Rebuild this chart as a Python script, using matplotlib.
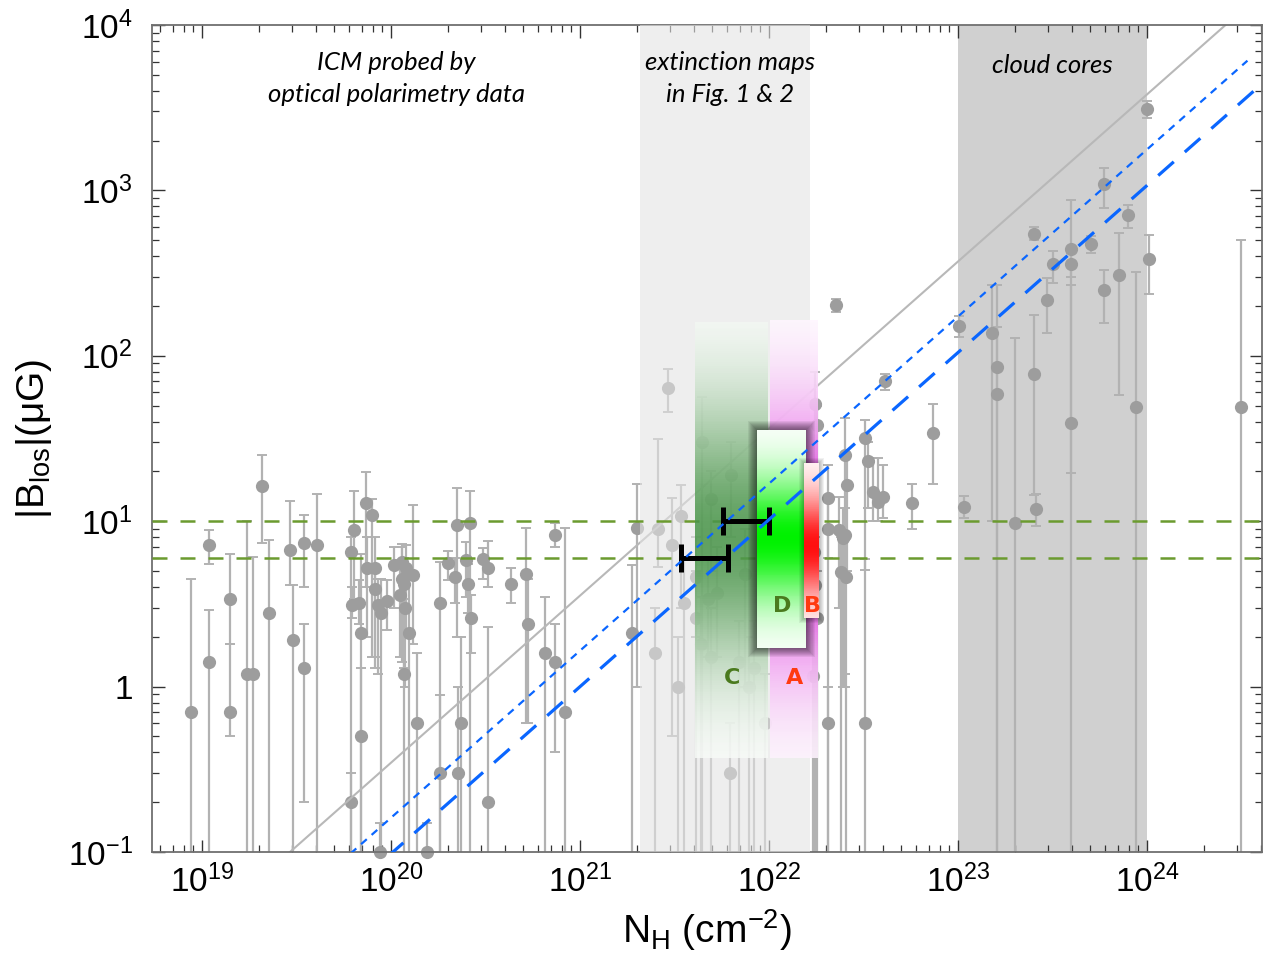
import numpy as np
import matplotlib
matplotlib.use('Agg')
import matplotlib.pyplot as plt
from matplotlib.patches import Rectangle

plt.rcParams['font.family'] = ['Liberation Sans', 'DejaVu Sans']
plt.rcParams['mathtext.fontset'] = 'custom'
plt.rcParams['mathtext.rm'] = 'Liberation Sans'
plt.rcParams['mathtext.it'] = 'Liberation Sans:italic'
plt.rcParams['mathtext.bf'] = 'Liberation Sans:bold'

Z = 1e-3  # lower error reaching below the axis

# column density (cm^-2), |B_los| (uG) and error bar ends
nh = [
    8.7e18, 1.09e19, 1.09e19, 1.41e19, 1.41e19, 1.72e19, 1.85e19, 2.07e19, 2.27e19, 2.93e19,
    3.02e19, 3.45e19, 3.45e19, 4.03e19, 6.1e19, 6.4e19, 6.1e19, 6.2e19, 6.8e19, 6.9e19,
    6.9e19, 7.4e19, 7.9e19, 7.5e19, 8.2e19, 8.2e19, 8.5e19, 8.8e19, 9.5e19, 8.7e19,
    1.55e20, 1.04e20, 1.14e20, 1.2e20, 1.3e20, 1.14e20, 1.17e20, 1.11e20, 1.18e20, 1.25e20,
    1.17e20, 1.37e20, 1.82e20, 1.82e20, 1.99e20, 2.18e20, 2.22e20, 2.62e20, 2.5e20, 2.55e20,
    2.65e20, 2.34e20, 2.26e20, 3.08e20, 3.27e20, 3.24e20, 4.3e20, 5.2e20, 5.3e20, 6.5e20,
    7.4e20, 7.4e20, 8.3e20, 1.88e21, 2.01e21,
    2.91e21, 2.6e21, 2.49e21, 3.05e21, 3.41e21, 3.55e21, 3.31e21, 4.43e21, 4.1e21, 4.1e21,
    4.36e21, 4.9e21, 4.95e21, 6.3e21, 4.75e21, 5.3e21, 6.2e21, 7.8e21, 8.3e21, 6.9e21,
    7.5e21, 9.5e21, 1.75e22, 1.8e22, 1.72e22, 1.75e22, 1.8e22, 1.7e22,
    2.26e22, 2.05e22, 2.52e22, 2.58e22, 3.34e22, 4.1e22, 3.22e22, 3.55e22, 3.75e22, 4.0e22,
    5.69e22, 7.4e22, 2.05e22, 2.35e22, 2.52e22, 2.45e22, 2.4e22, 2.55e22, 2.05e22, 3.2e22,
    1.01e23, 1.08e23, 1.51e23, 1.6e23, 1.6e23, 2.52e23, 2.6e23, 2.0e23, 2.52e23, 2.97e23,
    3.2e23, 3.98e23, 3.98e23, 3.98e23, 5.04e23, 5.94e23, 5.94e23, 7.1e23, 7.9e23, 8.75e23,
    9.96e23, 1.03e24, 3.14e24,
]
b_los = [
    0.70, 7.2, 1.4, 3.4, 0.70, 1.2, 1.2, 16.3, 2.8, 6.7,
    1.9, 7.4, 1.3, 7.2, 6.5, 8.8, 0.2, 3.1, 3.2, 2.1,
    0.5, 12.9, 10.9, 5.2, 5.2, 3.9, 3.1, 2.8, 3.3, 0.1,
    0.1, 5.4, 5.7, 5.2, 4.7, 4.5, 4.2, 3.6, 3.0, 2.1,
    1.2, 0.6, 3.2, 0.3, 5.6, 4.6, 9.5, 9.8, 5.8, 4.2,
    2.6, 0.6, 0.3, 5.9, 5.2, 0.2, 4.2, 4.8, 2.4, 1.6,
    1.4, 8.3, 0.7, 2.1, 9.1,
    64, 9.0, 1.6, 7.2, 10.8, 3.2, 1.0, 30, 4.6, 2.6,
    1.8, 1.5, 13.7, 19.1, 3.4, 3.7, 0.3, 1.0, 1.3, 1.4,
    4.8, 0.6, 51, 38, 6.5, 4.1, 2.6, 1.16,
    202, 13.9, 25, 16.6, 23, 70, 32, 15.0, 13.0, 14.1,
    12.8, 34, 9.0, 8.8, 8.3, 7.9, 4.9, 4.6, 0.6, 0.6,
    152, 12.2, 138, 86, 59, 78, 11.9, 9.8, 547, 217,
    358, 440, 39.5, 358, 473, 1096, 249, 307, 708, 49,
    3119, 386, 49,
]
b_low = [
    Z, 5.5, Z, 1.8, 0.50, Z, Z, 7.4, Z, 4.1,
    Z, 4.0, 0.2, Z, Z, 3.4, Z, 2.6, 2.4, Z,
    Z, 4.0, 1.5, 2.0, 1.5, 1.3, 1.2, Z, 2.2, Z,
    Z, 3.0, 3.5, 2.0, 1.8, 1.4, 1.3, 1.5, 1.0, Z,
    Z, Z, Z, Z, 4.4, 3.2, 2.0, Z, 3.5, 2.8,
    1.6, Z, Z, 4.5, 4.0, Z, 3.2, 0.6, 0.6, Z,
    0.4, 7.0, Z, Z, 1.0,
    46, 5.3, Z, 0.5, 3.0, Z, Z, Z, 2.0, Z,
    Z, Z, 5.0, 8.0, 1.5, 1.5, Z, Z, Z, Z,
    1.0, Z, Z, 5.0, Z, Z, Z, Z,
    185, 6.0, 1.2, 5.0, 12, 62, 5.1, 10, 10, 10.5,
    9.0, 16.8, Z, 3.0, 1.0, 1.0, Z, Z, Z, Z,
    130, 10.5, 10, Z, Z, 14.4, 9.3, Z, 500, 138,
    276, 19.6, Z, 300, 420, 780, 158, 58, 590, Z,
    2750, 235, Z,
]
b_high = [
    4.5, 8.9, 2.9, 6.3, 1.8, 10.0, 6.1, 25, 7.7, 13.3,
    4.1, 10.9, 2.4, 14.7, 8.0, 15.2, 0.3, 4.0, 4.4, 6.3,
    1.3, 19.9, 13.6, 8.0, 8.0, 5.2, 4.5, 4.5, 4.4, 0.15,
    0.15, 7.0, 7.3, 7.2, 12.5, 7.0, 6.0, 5.8, 5.2, 4.8,
    3.4, 1.6, 5.7, 0.89, 6.6, 6.0, 15.8, 15.2, 7.5, 5.5,
    3.6, 2.0, 1.0, 6.9, 7.6, 2.3, 5.2, 9.1, 4.5, 3.5,
    2.4, 9.7, 9.1, 5.4, 16.9,
    83, 31.6, 3.0, 13.9, 16.5, 6.0, 2.0, 56, 8.0, 5.0,
    3.5, 3.0, 20, 30, 6.0, 7.0, 0.6, 2.0, 2.5, 2.5,
    9.0, 1.2, 80, 50, 12, 8, 5, 3,
    220, 22, 42, 25, 30, 78, 41, 24, 24, 22,
    16.8, 51, 14, 14, 12, 12, 8, 8, 1.0, 5.9,
    175, 14.3, 268, 268, 150, 176, 14.6, 128, 600, 295,
    428, 871, 268, 420, 530, 1360, 330, 553, 815, 320,
    3470, 537, 500,
]

# shaded N_H ranges
ext_range = [2.07e21, 1.65e22]
core_range = [1e23, 1e24]

# B = k * (N/1e21)^slope relations
line_slope = 1.01
gray_k, dotted_k, dashed_k = 3.55, 1.65, 1.0
dotted_nmax = 3.4e24

# horizontal reference fields (uG)
b_refs = [10, 6]

# black N_H ranges at those fields
bar_b = [10, 6]
bar_nlo = [5.69e21, 3.42e21]
bar_nhi = [1.0e22, 6.04e21]

# coloured regions: (n0, n1, b0, b1)
reg_c = (4.06e21, 9.9e21, 0.37, 160)
reg_a = (1.01e22, 1.82e22, 0.37, 165)
reg_d = (8.65e21, 1.57e22, 1.7, 35.5)
reg_b = (1.53e22, 1.84e22, 2.6, 22.4)


def gradient(ax, reg, rgb, peak, w_up, w_dn, alpha, zorder):
    n0, n1, b0, b1 = reg
    edges = np.logspace(np.log10(b0), np.log10(b1), 240)
    mids = 0.5 * (np.log10(edges[:-1]) + np.log10(edges[1:]))
    d = mids - peak
    w = np.where(d > 0, w_up, w_dn)
    t = np.exp(-(d / w) ** 2)
    rgba = np.ones((len(mids), 1, 4))
    rgba[:, 0, :3] = 1 - t[:, None] * (1 - np.array(rgb))
    rgba[:, 0, 3] = alpha
    ax.pcolormesh([n0, n1], edges, rgba, shading='flat', zorder=zorder,
                  edgecolors='none', antialiased=False)


def shadow(ax, reg, zorder, layers=9, alpha=0.055):
    n0, n1, b0, b1 = reg
    for k in range(1, layers + 1):
        fx = 10 ** (k / 189.0)
        fy = 10 ** (k / 165.4)
        ax.add_patch(Rectangle((n0 / fx, b0 / fy), n1 * fx * 1.004 - n0 / fx, b1 * fy - b0 / fy,
                               facecolor='black', edgecolor='none', alpha=alpha, zorder=zorder))


fig = plt.figure(figsize=(12.7, 9.73), dpi=100)
ax = fig.add_axes([152 / 1270, 121 / 973, 1110 / 1270, 827 / 973])
ax.set_xscale('log')
ax.set_yscale('log')
ax.set_xlim(5.43e18, 4.06e24)
ax.set_ylim(0.1, 1e4)

# background bands
ax.axvspan(core_range[0], core_range[1], color='#d0d0d0', lw=0, zorder=0.5)

# data points
nh = np.array(nh)
b_los = np.array(b_los)
yerr = [b_los - np.array(b_low), np.array(b_high) - b_los]
ax.errorbar(nh, b_los, yerr=yerr, fmt='none', ecolor='#b2b2b2', elinewidth=1.6,
            capsize=3.8, capthick=1.4, zorder=2)
ax.plot(nh, b_los, 'o', ms=9.5, color='#9d9d9d', mec='none', zorder=2.1, clip_on=False)

# gray relation
nfit = np.logspace(18.6, 24.7, 100)
ax.plot(nfit, gray_k * (nfit / 1e21) ** line_slope, color='#b8b8b8', lw=1.5, zorder=2.5)

# extinction band drawn over the data
ax.axvspan(ext_range[0], ext_range[1], color='#e4e4e4', alpha=0.6, lw=0, zorder=3)

# green reference fields
for bv in b_refs:
    ax.axhline(bv, color='#6b9b2f', lw=1.8, dashes=(6, 5.2), zorder=3.5)

# coloured columns
gradient(ax, reg_c, (0.28, 0.58, 0.28), 0.9, 0.8, 0.75, 0.85, 4)
gradient(ax, reg_a, (0.88, 0.20, 0.88), 0.9, 0.75, 0.8, 0.9, 4)
shadow(ax, reg_d, 4.5, alpha=0.065)
gradient(ax, reg_d, (0.0, 0.95, 0.0), 0.9, 0.36, 0.38, 1.0, 5)
shadow(ax, reg_b, 5.2, layers=5)
gradient(ax, reg_b, (1.0, 0.06, 0.06), 0.85, 0.3, 0.3, 1.0, 5.5)

# black N_H ranges
bar_c = np.sqrt(np.array(bar_nlo) * np.array(bar_nhi))
ax.errorbar(bar_c, bar_b, xerr=[bar_c - np.array(bar_nlo), np.array(bar_nhi) - bar_c],
            fmt='none', ecolor='black', elinewidth=3.6, capsize=10, capthick=3.6, zorder=6)

# blue relations
ndot = np.logspace(18.6, np.log10(dotted_nmax), 100)
ax.plot(ndot, dotted_k * (ndot / 1e21) ** line_slope, color='#0a66ff', lw=1.6,
        dashes=(3.4, 2.9), zorder=7)
ax.plot(nfit, dashed_k * (nfit / 1e21) ** line_slope, color='#0a66ff', lw=2.3,
        dashes=(6.5, 4.6), zorder=7)

# region letters
lab_kw = dict(fontsize=16, fontweight='bold', ha='center', va='center',
              family=['DejaVu Sans'], zorder=8)
ax.text(6.37e21, 1.12, 'C', color='#4a7a1e', **lab_kw)
ax.text(1.37e22, 1.12, 'A', color='#ff3a10', **lab_kw)
ax.text(1.17e22, 3.06, 'D', color='#4a7a1e', **lab_kw)
ax.text(1.69e22, 3.06, 'B', color='#ff3a10', **lab_kw)

# annotations
note_kw = dict(fontsize=18.5, style='italic', ha='center', va='center',
               family=['Lato', 'DejaVu Sans'], linespacing=1.45, zorder=8)
ax.text(1.07e20, 4760, 'ICM probed by\noptical polarimetry data', **note_kw)
ax.text(6.2e21, 4760, 'extinction maps\nin Fig. 1 & 2', **note_kw)
ax.text(3.14e23, 5700, 'cloud cores', **note_kw)

# axes styling
ax.set_yticks([0.1, 1, 10, 100, 1000, 10000],
              labels=['$10^{-1}$', '1', '$10^{1}$', '$10^{2}$', '$10^{3}$', '$10^{4}$'])
ax.set_xticks([1e19, 1e20, 1e21, 1e22, 1e23, 1e24],
              labels=['$10^{19}$', '$10^{20}$', '$10^{21}$', '$10^{22}$', '$10^{23}$', '$10^{24}$'])
ax.tick_params(which='both', direction='in', top=True, right=True, colors='#333333',
               labelcolor='black')
ax.tick_params(which='major', length=9, width=1.0, labelsize=24)
ax.tick_params(which='minor', length=5, width=0.9)
ax.tick_params(axis='x', which='major', pad=9)
ax.tick_params(axis='y', which='major', pad=14)
for sp in ax.spines.values():
    sp.set_color('#707070')
    sp.set_linewidth(1.3)

ax.set_xlabel('N$_{\\mathregular{H}}$ (cm$^{\\mathregular{-2}}$)', fontsize=28, labelpad=6)
ax.set_ylabel('|B$_{\\mathregular{los}}$|(μG)', fontsize=28, labelpad=10)

fig.savefig('out.png', dpi=100)
